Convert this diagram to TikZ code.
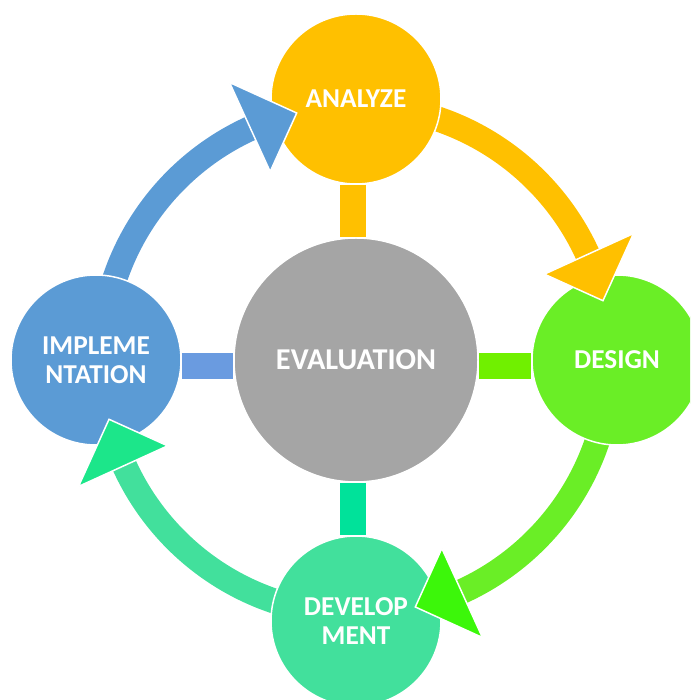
\documentclass[tikz,border=0pt]{standalone}
\usepackage{fontspec}
\setmainfont{Carlito}
\pgfdeclarelayer{background}
\pgfsetlayers{background,main}
\definecolor{cOrange}{HTML}{FFC000}
\definecolor{cGreen}{HTML}{6AEE26}
\definecolor{cGreenHead}{HTML}{3CF70A}
\definecolor{cGreenBar}{HTML}{70F000}
\definecolor{cTeal}{HTML}{42E09C}
\definecolor{cTealHead}{HTML}{1CE68A}
\definecolor{cTealBar}{HTML}{00E29A}
\definecolor{cBlue}{HTML}{5B9BD5}
\definecolor{cBlueBar}{HTML}{6A9BE0}
\definecolor{cEval}{HTML}{A5A5A5}
\begin{document}
\begin{tikzpicture}[x=1pt,y=1pt,
  phase/.style={circle, minimum size=170pt, inner sep=0pt, draw=white, line width=1.5pt,
    text=white, font=\bfseries\fontsize{27.3}{29.5}\selectfont, align=center},
  ring/.style={line width=25pt, line cap=butt},
  head/.style={draw=white, line width=1.5pt, line join=miter},
  linkbar/.style={line width=26pt, line cap=butt}]
\useasboundingbox (-356,-340) rectangle (334,360);
\clip (-356,-340) rectangle (334,360);

\node[phase, fill=cEval, minimum size=244pt, font=\bfseries\fontsize{30.3}{33}\selectfont] (eval) at (0,0) {EVALUATION};
\node[phase, fill=cOrange] (analyze) at (0,261) {ANALYZE};
\node[phase, fill=cGreen] (design) at (261,0) {DESIGN};
\node[phase, fill=cTeal] (devel) at (0,-261) {DEVELOP\\MENT};
\node[phase, fill=cBlue] (impl) at (-260,0) {IMPLEME\\NTATION};

\begin{pgfonlayer}{background}
  % ring arcs
  \draw[ring, cOrange] ([shift={(72:254.5)}]eval.center) arc[start angle=72, end angle=24, radius=254.5];
  \draw[ring, cGreen] ([shift={(-18:254.5)}]eval.center) arc[start angle=-18, end angle=-66, radius=254.5];
  \draw[ring, cTeal] ([shift={(252:254.5)}]eval.center) arc[start angle=252, end angle=204, radius=254.5];
  \draw[ring, cBlue] ([shift={(162:254.5)}]eval.center) arc[start angle=162, end angle=114, radius=254.5];
  % spokes
  \draw[linkbar, cOrange] ([xshift=-3pt]analyze.south) -- ([xshift=-3pt]eval.north);
  \draw[linkbar, cTealBar] ([xshift=-3pt]eval.south) -- ([xshift=-3pt]devel.north);
  \draw[linkbar, cBlueBar] ([yshift=-6pt]impl.east) -- ([yshift=-6pt]eval.west);
  \draw[linkbar, cGreenBar] ([yshift=-6pt]eval.east) -- ([yshift=-6pt]design.west);
\end{pgfonlayer}

% arrowheads
\draw[head, fill=cOrange] ([shift={(24.5:207)}]eval.center) -- ([shift={(24.5:305)}]eval.center) -- ([shift={(13.5:254)}]eval.center) -- cycle;
\draw[head, fill=cGreenHead] ([shift={(-65.5:207)}]eval.center) -- ([shift={(-65.5:305)}]eval.center) -- ([shift={(-76.5:254)}]eval.center) -- cycle;
\draw[head, fill=cTealHead] ([shift={(204.5:207)}]eval.center) -- ([shift={(204.5:305)}]eval.center) -- ([shift={(193.5:254)}]eval.center) -- cycle;
\draw[head, fill=cBlue] ([shift={(114.5:207)}]eval.center) -- ([shift={(114.5:305)}]eval.center) -- ([shift={(103.5:254)}]eval.center) -- cycle;
\end{tikzpicture}
\end{document}
